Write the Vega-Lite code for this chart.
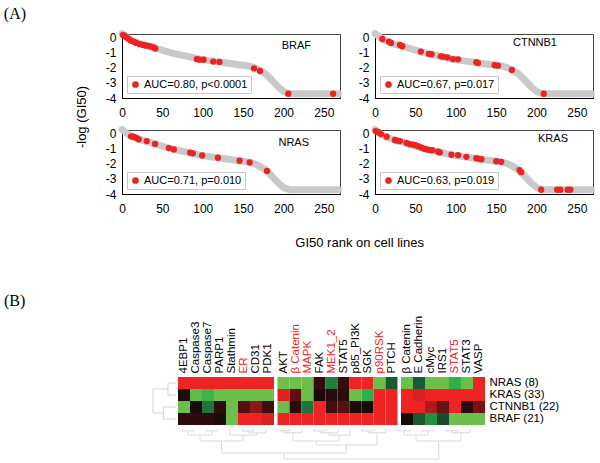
{
"$schema": "https://vega.github.io/schema/vega-lite/v6.json",
"background": "white",
"padding": {"left": 3, "top": 5, "right": 0, "bottom": 0},
"config": {
  "font": "Liberation Sans",
  "view": {"stroke": "#444"},
  "axis": {"labelFont": "Liberation Sans", "labelColor": "black", "grid": false, "ticks": false, "domainColor": "black", "title": null, "labelOverlap": false},
  "legend": {"orient": "bottom-left", "offset": 5, "padding": 3, "strokeColor": "#c8c8c8", "fillColor": "white", "labelFont": "Liberation Sans", "labelFontSize": 11, "labelColor": "black", "symbolSize": 45, "symbolStrokeWidth": 0, "title": null, "labelOffset": 3},
  "title": {"font": "Liberation Sans", "color": "black", "fontWeight": "normal"}
},
"datasets": {
  "curve": [
    {"rank": 0, "y": 0.25}, {"rank": 3, "y": 0.14}, {"rank": 6, "y": 0.0}, {"rank": 10, "y": -0.14},
    {"rank": 15, "y": -0.27}, {"rank": 25, "y": -0.46}, {"rank": 35, "y": -0.6}, {"rank": 42, "y": -0.72},
    {"rank": 55, "y": -0.92}, {"rank": 65, "y": -1.07}, {"rank": 80, "y": -1.24}, {"rank": 95, "y": -1.42},
    {"rank": 110, "y": -1.55}, {"rank": 125, "y": -1.66}, {"rank": 140, "y": -1.77}, {"rank": 155, "y": -1.87},
    {"rank": 163, "y": -1.98}, {"rank": 170, "y": -2.15}, {"rank": 178, "y": -2.42}, {"rank": 186, "y": -2.85},
    {"rank": 194, "y": -3.3}, {"rank": 201, "y": -3.6}, {"rank": 208, "y": -3.72}, {"rank": 268, "y": -3.72}
  ],
  "pts": [
    {"gene": "BRAF", "stat": "AUC=0.80, p<0.0001", "rank": 1.2, "y": 0.15},
    {"gene": "BRAF", "stat": "AUC=0.80, p<0.0001", "rank": 2.9, "y": 0.11},
    {"gene": "BRAF", "stat": "AUC=0.80, p<0.0001", "rank": 5.4, "y": 0.0},
    {"gene": "BRAF", "stat": "AUC=0.80, p<0.0001", "rank": 8.2, "y": -0.11},
    {"gene": "BRAF", "stat": "AUC=0.80, p<0.0001", "rank": 11.1, "y": -0.22},
    {"gene": "BRAF", "stat": "AUC=0.80, p<0.0001", "rank": 14.4, "y": -0.28},
    {"gene": "BRAF", "stat": "AUC=0.80, p<0.0001", "rank": 17.7, "y": -0.37},
    {"gene": "BRAF", "stat": "AUC=0.80, p<0.0001", "rank": 21.8, "y": -0.45},
    {"gene": "BRAF", "stat": "AUC=0.80, p<0.0001", "rank": 25.9, "y": -0.5},
    {"gene": "BRAF", "stat": "AUC=0.80, p<0.0001", "rank": 28.8, "y": -0.54},
    {"gene": "BRAF", "stat": "AUC=0.80, p<0.0001", "rank": 31.7, "y": -0.56},
    {"gene": "BRAF", "stat": "AUC=0.80, p<0.0001", "rank": 35, "y": -0.6},
    {"gene": "BRAF", "stat": "AUC=0.80, p<0.0001", "rank": 39.1, "y": -0.67},
    {"gene": "BRAF", "stat": "AUC=0.80, p<0.0001", "rank": 41.2, "y": -0.74},
    {"gene": "BRAF", "stat": "AUC=0.80, p<0.0001", "rank": 92.7, "y": -1.44},
    {"gene": "BRAF", "stat": "AUC=0.80, p<0.0001", "rank": 96, "y": -1.47},
    {"gene": "BRAF", "stat": "AUC=0.80, p<0.0001", "rank": 101, "y": -1.48},
    {"gene": "BRAF", "stat": "AUC=0.80, p<0.0001", "rank": 113, "y": -1.6},
    {"gene": "BRAF", "stat": "AUC=0.80, p<0.0001", "rank": 120.7, "y": -1.62},
    {"gene": "BRAF", "stat": "AUC=0.80, p<0.0001", "rank": 163.5, "y": -2.05},
    {"gene": "BRAF", "stat": "AUC=0.80, p<0.0001", "rank": 171, "y": -2.22},
    {"gene": "BRAF", "stat": "AUC=0.80, p<0.0001", "rank": 206, "y": -3.72},
    {"gene": "BRAF", "stat": "AUC=0.80, p<0.0001", "rank": 261.5, "y": -3.72},
    {"gene": "CTNNB1", "stat": "AUC=0.67, p=0.017", "rank": 9.1, "y": -0.11},
    {"gene": "CTNNB1", "stat": "AUC=0.67, p=0.017", "rank": 17.3, "y": -0.28},
    {"gene": "CTNNB1", "stat": "AUC=0.67, p=0.017", "rank": 19.8, "y": -0.37},
    {"gene": "CTNNB1", "stat": "AUC=0.67, p=0.017", "rank": 30.9, "y": -0.5},
    {"gene": "CTNNB1", "stat": "AUC=0.67, p=0.017", "rank": 33.7, "y": -0.59},
    {"gene": "CTNNB1", "stat": "AUC=0.67, p=0.017", "rank": 56.8, "y": -0.94},
    {"gene": "CTNNB1", "stat": "AUC=0.67, p=0.017", "rank": 66.7, "y": -1.09},
    {"gene": "CTNNB1", "stat": "AUC=0.67, p=0.017", "rank": 70, "y": -1.11},
    {"gene": "CTNNB1", "stat": "AUC=0.67, p=0.017", "rank": 81.5, "y": -1.25},
    {"gene": "CTNNB1", "stat": "AUC=0.67, p=0.017", "rank": 84.4, "y": -1.27},
    {"gene": "CTNNB1", "stat": "AUC=0.67, p=0.017", "rank": 89.7, "y": -1.33},
    {"gene": "CTNNB1", "stat": "AUC=0.67, p=0.017", "rank": 96.7, "y": -1.44},
    {"gene": "CTNNB1", "stat": "AUC=0.67, p=0.017", "rank": 102.9, "y": -1.45},
    {"gene": "CTNNB1", "stat": "AUC=0.67, p=0.017", "rank": 125.5, "y": -1.64},
    {"gene": "CTNNB1", "stat": "AUC=0.67, p=0.017", "rank": 127.6, "y": -1.7},
    {"gene": "CTNNB1", "stat": "AUC=0.67, p=0.017", "rank": 148.1, "y": -1.84},
    {"gene": "CTNNB1", "stat": "AUC=0.67, p=0.017", "rank": 152.3, "y": -1.87},
    {"gene": "CTNNB1", "stat": "AUC=0.67, p=0.017", "rank": 169.5, "y": -2.15},
    {"gene": "CTNNB1", "stat": "AUC=0.67, p=0.017", "rank": 209, "y": -3.72},
    {"gene": "NRAS", "stat": "AUC=0.71, p=0.010", "rank": 11.2, "y": -0.2},
    {"gene": "NRAS", "stat": "AUC=0.71, p=0.010", "rank": 14.1, "y": -0.22},
    {"gene": "NRAS", "stat": "AUC=0.71, p=0.010", "rank": 17.4, "y": -0.29},
    {"gene": "NRAS", "stat": "AUC=0.71, p=0.010", "rank": 20.7, "y": -0.4},
    {"gene": "NRAS", "stat": "AUC=0.71, p=0.010", "rank": 30.6, "y": -0.51},
    {"gene": "NRAS", "stat": "AUC=0.71, p=0.010", "rank": 41, "y": -0.7},
    {"gene": "NRAS", "stat": "AUC=0.71, p=0.010", "rank": 58, "y": -0.97},
    {"gene": "NRAS", "stat": "AUC=0.71, p=0.010", "rank": 64.2, "y": -1.06},
    {"gene": "NRAS", "stat": "AUC=0.71, p=0.010", "rank": 84.4, "y": -1.27},
    {"gene": "NRAS", "stat": "AUC=0.71, p=0.010", "rank": 87.7, "y": -1.32},
    {"gene": "NRAS", "stat": "AUC=0.71, p=0.010", "rank": 99.3, "y": -1.46},
    {"gene": "NRAS", "stat": "AUC=0.71, p=0.010", "rank": 118.8, "y": -1.61},
    {"gene": "NRAS", "stat": "AUC=0.71, p=0.010", "rank": 145.7, "y": -1.8},
    {"gene": "NRAS", "stat": "AUC=0.71, p=0.010", "rank": 158.1, "y": -1.92},
    {"gene": "NRAS", "stat": "AUC=0.71, p=0.010", "rank": 179.6, "y": -2.48},
    {"gene": "KRAS", "stat": "AUC=0.63, p=0.019", "rank": 0.8, "y": 0.15},
    {"gene": "KRAS", "stat": "AUC=0.63, p=0.019", "rank": 4.1, "y": 0.07},
    {"gene": "KRAS", "stat": "AUC=0.63, p=0.019", "rank": 7.4, "y": -0.05},
    {"gene": "KRAS", "stat": "AUC=0.63, p=0.019", "rank": 14.4, "y": -0.22},
    {"gene": "KRAS", "stat": "AUC=0.63, p=0.019", "rank": 24.7, "y": -0.44},
    {"gene": "KRAS", "stat": "AUC=0.63, p=0.019", "rank": 28, "y": -0.48},
    {"gene": "KRAS", "stat": "AUC=0.63, p=0.019", "rank": 30.9, "y": -0.51},
    {"gene": "KRAS", "stat": "AUC=0.63, p=0.019", "rank": 39.1, "y": -0.63},
    {"gene": "KRAS", "stat": "AUC=0.63, p=0.019", "rank": 43.2, "y": -0.72},
    {"gene": "KRAS", "stat": "AUC=0.63, p=0.019", "rank": 47.3, "y": -0.74},
    {"gene": "KRAS", "stat": "AUC=0.63, p=0.019", "rank": 50.2, "y": -0.78},
    {"gene": "KRAS", "stat": "AUC=0.63, p=0.019", "rank": 54.3, "y": -0.86},
    {"gene": "KRAS", "stat": "AUC=0.63, p=0.019", "rank": 57.6, "y": -0.94},
    {"gene": "KRAS", "stat": "AUC=0.63, p=0.019", "rank": 61.7, "y": -1.03},
    {"gene": "KRAS", "stat": "AUC=0.63, p=0.019", "rank": 65, "y": -1.07},
    {"gene": "KRAS", "stat": "AUC=0.63, p=0.019", "rank": 67.9, "y": -1.09},
    {"gene": "KRAS", "stat": "AUC=0.63, p=0.019", "rank": 70.8, "y": -1.11},
    {"gene": "KRAS", "stat": "AUC=0.63, p=0.019", "rank": 78.2, "y": -1.21},
    {"gene": "KRAS", "stat": "AUC=0.63, p=0.019", "rank": 80.2, "y": -1.26},
    {"gene": "KRAS", "stat": "AUC=0.63, p=0.019", "rank": 94.7, "y": -1.41},
    {"gene": "KRAS", "stat": "AUC=0.63, p=0.019", "rank": 102.9, "y": -1.44},
    {"gene": "KRAS", "stat": "AUC=0.63, p=0.019", "rank": 113.2, "y": -1.55},
    {"gene": "KRAS", "stat": "AUC=0.63, p=0.019", "rank": 125.5, "y": -1.64},
    {"gene": "KRAS", "stat": "AUC=0.63, p=0.019", "rank": 128.8, "y": -1.68},
    {"gene": "KRAS", "stat": "AUC=0.63, p=0.019", "rank": 131.7, "y": -1.71},
    {"gene": "KRAS", "stat": "AUC=0.63, p=0.019", "rank": 150.2, "y": -1.84},
    {"gene": "KRAS", "stat": "AUC=0.63, p=0.019", "rank": 156.4, "y": -1.88},
    {"gene": "KRAS", "stat": "AUC=0.63, p=0.019", "rank": 179, "y": -2.42},
    {"gene": "KRAS", "stat": "AUC=0.63, p=0.019", "rank": 181, "y": -2.56},
    {"gene": "KRAS", "stat": "AUC=0.63, p=0.019", "rank": 205.8, "y": -3.72},
    {"gene": "KRAS", "stat": "AUC=0.63, p=0.019", "rank": 225.5, "y": -3.72},
    {"gene": "KRAS", "stat": "AUC=0.63, p=0.019", "rank": 229.6, "y": -3.72},
    {"gene": "KRAS", "stat": "AUC=0.63, p=0.019", "rank": 238.7, "y": -3.72},
    {"gene": "KRAS", "stat": "AUC=0.63, p=0.019", "rank": 242, "y": -3.72}
  ],
  "heat": [
    {"g": 1, "col": "4EBP1", "row": "NRAS (8)", "v": 1}, {"g": 1, "col": "Caspase3", "row": "NRAS (8)", "v": 1}, {"g": 1, "col": "Caspase7", "row": "NRAS (8)", "v": 1}, {"g": 1, "col": "PARP1", "row": "NRAS (8)", "v": 1},
    {"g": 1, "col": "Stathmin", "row": "NRAS (8)", "v": 1}, {"g": 1, "col": "ER", "row": "NRAS (8)", "v": 1}, {"g": 1, "col": "CD31", "row": "NRAS (8)", "v": 1}, {"g": 1, "col": "PDK1", "row": "NRAS (8)", "v": 1},
    {"g": 1, "col": "4EBP1", "row": "KRAS (33)", "v": 0.04}, {"g": 1, "col": "Caspase3", "row": "KRAS (33)", "v": -0.95}, {"g": 1, "col": "Caspase7", "row": "KRAS (33)", "v": -0.85}, {"g": 1, "col": "PARP1", "row": "KRAS (33)", "v": -1},
    {"g": 1, "col": "Stathmin", "row": "KRAS (33)", "v": -1}, {"g": 1, "col": "ER", "row": "KRAS (33)", "v": -1}, {"g": 1, "col": "CD31", "row": "KRAS (33)", "v": -1}, {"g": 1, "col": "PDK1", "row": "KRAS (33)", "v": -1},
    {"g": 1, "col": "4EBP1", "row": "CTNNB1 (22)", "v": -1}, {"g": 1, "col": "Caspase3", "row": "CTNNB1 (22)", "v": 0}, {"g": 1, "col": "Caspase7", "row": "CTNNB1 (22)", "v": -0.45}, {"g": 1, "col": "PARP1", "row": "CTNNB1 (22)", "v": 0.12},
    {"g": 1, "col": "Stathmin", "row": "CTNNB1 (22)", "v": -1}, {"g": 1, "col": "ER", "row": "CTNNB1 (22)", "v": 0.3}, {"g": 1, "col": "CD31", "row": "CTNNB1 (22)", "v": 0.55}, {"g": 1, "col": "PDK1", "row": "CTNNB1 (22)", "v": 0.2},
    {"g": 1, "col": "4EBP1", "row": "BRAF (21)", "v": 0.12}, {"g": 1, "col": "Caspase3", "row": "BRAF (21)", "v": 0.12}, {"g": 1, "col": "Caspase7", "row": "BRAF (21)", "v": 0.12}, {"g": 1, "col": "PARP1", "row": "BRAF (21)", "v": 0.04},
    {"g": 1, "col": "Stathmin", "row": "BRAF (21)", "v": -1}, {"g": 1, "col": "ER", "row": "BRAF (21)", "v": 1}, {"g": 1, "col": "CD31", "row": "BRAF (21)", "v": 1}, {"g": 1, "col": "PDK1", "row": "BRAF (21)", "v": 0.9},
    {"g": 2, "col": "AKT", "row": "NRAS (8)", "v": -1}, {"g": 2, "col": "β Catenin", "row": "NRAS (8)", "v": -1}, {"g": 2, "col": "MAPK", "row": "NRAS (8)", "v": -1}, {"g": 2, "col": "FAK", "row": "NRAS (8)", "v": 0.15}, {"g": 2, "col": "MEK1_2", "row": "NRAS (8)", "v": -0.5},
    {"g": 2, "col": "STAT5", "row": "NRAS (8)", "v": 0.15}, {"g": 2, "col": "p85_PI3K", "row": "NRAS (8)", "v": 1}, {"g": 2, "col": "SGK", "row": "NRAS (8)", "v": 1}, {"g": 2, "col": "p90RSK", "row": "NRAS (8)", "v": -1}, {"g": 2, "col": "PTCH", "row": "NRAS (8)", "v": -0.3},
    {"g": 2, "col": "AKT", "row": "KRAS (33)", "v": 0.92}, {"g": 2, "col": "β Catenin", "row": "KRAS (33)", "v": 0.35}, {"g": 2, "col": "MAPK", "row": "KRAS (33)", "v": -1}, {"g": 2, "col": "FAK", "row": "KRAS (33)", "v": 0.02}, {"g": 2, "col": "MEK1_2", "row": "KRAS (33)", "v": 0.1},
    {"g": 2, "col": "STAT5", "row": "KRAS (33)", "v": 0.1}, {"g": 2, "col": "p85_PI3K", "row": "KRAS (33)", "v": -1}, {"g": 2, "col": "SGK", "row": "KRAS (33)", "v": -0.8}, {"g": 2, "col": "p90RSK", "row": "KRAS (33)", "v": 1}, {"g": 2, "col": "PTCH", "row": "KRAS (33)", "v": 1},
    {"g": 2, "col": "AKT", "row": "CTNNB1 (22)", "v": -1}, {"g": 2, "col": "β Catenin", "row": "CTNNB1 (22)", "v": 0.1}, {"g": 2, "col": "MAPK", "row": "CTNNB1 (22)", "v": -0.45}, {"g": 2, "col": "FAK", "row": "CTNNB1 (22)", "v": 1}, {"g": 2, "col": "MEK1_2", "row": "CTNNB1 (22)", "v": 0.2},
    {"g": 2, "col": "STAT5", "row": "CTNNB1 (22)", "v": 0.3}, {"g": 2, "col": "p85_PI3K", "row": "CTNNB1 (22)", "v": 0.02}, {"g": 2, "col": "SGK", "row": "CTNNB1 (22)", "v": 0.02}, {"g": 2, "col": "p90RSK", "row": "CTNNB1 (22)", "v": 1}, {"g": 2, "col": "PTCH", "row": "CTNNB1 (22)", "v": 1},
    {"g": 2, "col": "AKT", "row": "BRAF (21)", "v": 1}, {"g": 2, "col": "β Catenin", "row": "BRAF (21)", "v": 1}, {"g": 2, "col": "MAPK", "row": "BRAF (21)", "v": 1}, {"g": 2, "col": "FAK", "row": "BRAF (21)", "v": 1}, {"g": 2, "col": "MEK1_2", "row": "BRAF (21)", "v": 1},
    {"g": 2, "col": "STAT5", "row": "BRAF (21)", "v": 1}, {"g": 2, "col": "p85_PI3K", "row": "BRAF (21)", "v": 1}, {"g": 2, "col": "SGK", "row": "BRAF (21)", "v": 1}, {"g": 2, "col": "p90RSK", "row": "BRAF (21)", "v": 1}, {"g": 2, "col": "PTCH", "row": "BRAF (21)", "v": 1},
    {"g": 3, "col": "β Catenin", "row": "NRAS (8)", "v": -1}, {"g": 3, "col": "E Cadherin", "row": "NRAS (8)", "v": -0.3}, {"g": 3, "col": "cMyc", "row": "NRAS (8)", "v": -1}, {"g": 3, "col": "IRS1", "row": "NRAS (8)", "v": -1},
    {"g": 3, "col": "STAT5", "row": "NRAS (8)", "v": -0.8}, {"g": 3, "col": "STAT3", "row": "NRAS (8)", "v": -1}, {"g": 3, "col": "VASP", "row": "NRAS (8)", "v": 1},
    {"g": 3, "col": "β Catenin", "row": "KRAS (33)", "v": 1}, {"g": 3, "col": "E Cadherin", "row": "KRAS (33)", "v": 0.9}, {"g": 3, "col": "cMyc", "row": "KRAS (33)", "v": 1}, {"g": 3, "col": "IRS1", "row": "KRAS (33)", "v": 1},
    {"g": 3, "col": "STAT5", "row": "KRAS (33)", "v": 1}, {"g": 3, "col": "STAT3", "row": "KRAS (33)", "v": 1}, {"g": 3, "col": "VASP", "row": "KRAS (33)", "v": 1},
    {"g": 3, "col": "β Catenin", "row": "CTNNB1 (22)", "v": 1}, {"g": 3, "col": "E Cadherin", "row": "CTNNB1 (22)", "v": 1}, {"g": 3, "col": "cMyc", "row": "CTNNB1 (22)", "v": 0.7}, {"g": 3, "col": "IRS1", "row": "CTNNB1 (22)", "v": 0.4},
    {"g": 3, "col": "STAT5", "row": "CTNNB1 (22)", "v": 1}, {"g": 3, "col": "STAT3", "row": "CTNNB1 (22)", "v": 0.1}, {"g": 3, "col": "VASP", "row": "CTNNB1 (22)", "v": 0.45},
    {"g": 3, "col": "β Catenin", "row": "BRAF (21)", "v": 0}, {"g": 3, "col": "E Cadherin", "row": "BRAF (21)", "v": -0.3}, {"g": 3, "col": "cMyc", "row": "BRAF (21)", "v": -0.6}, {"g": 3, "col": "IRS1", "row": "BRAF (21)", "v": -0.25},
    {"g": 3, "col": "STAT5", "row": "BRAF (21)", "v": -1}, {"g": 3, "col": "STAT3", "row": "BRAF (21)", "v": -1}, {"g": 3, "col": "VASP", "row": "BRAF (21)", "v": -1}
  ],
  "dl": [
    {"x1": 0, "x2": 0.35, "y1": 0.5, "y2": 0.5}, {"x1": 0, "x2": 0.35, "y1": 1.5, "y2": 1.5}, {"x1": 0.35, "x2": 0.35, "y1": 0.5, "y2": 1.5},
    {"x1": 0, "x2": 0.55, "y1": 2.5, "y2": 2.5}, {"x1": 0, "x2": 0.55, "y1": 3.5, "y2": 3.5}, {"x1": 0.55, "x2": 0.55, "y1": 2.5, "y2": 3.5},
    {"x1": 0.35, "x2": 1, "y1": 1, "y2": 1}, {"x1": 0.55, "x2": 1, "y1": 3, "y2": 3}, {"x1": 1, "x2": 1, "y1": 1, "y2": 3}
  ],
  "db": [
    {"x1": 0.5, "x2": 1.5, "y1": 0.06, "y2": 0.06}, {"x1": 0.5, "x2": 0.5, "y1": 0, "y2": 0.06}, {"x1": 1.5, "x2": 1.5, "y1": 0, "y2": 0.06},
    {"x1": 2.5, "x2": 3.5, "y1": 0.06, "y2": 0.06}, {"x1": 2.5, "x2": 2.5, "y1": 0, "y2": 0.06}, {"x1": 3.5, "x2": 3.5, "y1": 0, "y2": 0.06},
    {"x1": 1, "x2": 3, "y1": 0.19, "y2": 0.19}, {"x1": 1, "x2": 1, "y1": 0.06, "y2": 0.19}, {"x1": 3, "x2": 3, "y1": 0.06, "y2": 0.19},
    {"x1": 5.5, "x2": 6.5, "y1": 0.06, "y2": 0.06}, {"x1": 5.5, "x2": 5.5, "y1": 0, "y2": 0.06}, {"x1": 6.5, "x2": 6.5, "y1": 0, "y2": 0.06},
    {"x1": 6, "x2": 7.5, "y1": 0.12, "y2": 0.12}, {"x1": 6, "x2": 6, "y1": 0.06, "y2": 0.12}, {"x1": 7.5, "x2": 7.5, "y1": 0, "y2": 0.12},
    {"x1": 4.5, "x2": 6.75, "y1": 0.19, "y2": 0.19}, {"x1": 4.5, "x2": 4.5, "y1": 0, "y2": 0.19}, {"x1": 6.75, "x2": 6.75, "y1": 0.12, "y2": 0.19},
    {"x1": 2, "x2": 5.6, "y1": 0.375, "y2": 0.375}, {"x1": 2, "x2": 2, "y1": 0.19, "y2": 0.375}, {"x1": 5.6, "x2": 5.6, "y1": 0.19, "y2": 0.375},
    {"x1": 8.5, "x2": 9.5, "y1": 0.06, "y2": 0.06}, {"x1": 8.5, "x2": 8.5, "y1": 0, "y2": 0.06}, {"x1": 9.5, "x2": 9.5, "y1": 0, "y2": 0.06},
    {"x1": 9, "x2": 10.5, "y1": 0.12, "y2": 0.12}, {"x1": 9, "x2": 9, "y1": 0.06, "y2": 0.12}, {"x1": 10.5, "x2": 10.5, "y1": 0, "y2": 0.12},
    {"x1": 11.5, "x2": 12.5, "y1": 0.06, "y2": 0.06}, {"x1": 11.5, "x2": 11.5, "y1": 0, "y2": 0.06}, {"x1": 12.5, "x2": 12.5, "y1": 0, "y2": 0.06},
    {"x1": 12, "x2": 13.5, "y1": 0.12, "y2": 0.12}, {"x1": 12, "x2": 12, "y1": 0.06, "y2": 0.12}, {"x1": 13.5, "x2": 13.5, "y1": 0, "y2": 0.12},
    {"x1": 12.75, "x2": 14.5, "y1": 0.19, "y2": 0.19}, {"x1": 12.75, "x2": 12.75, "y1": 0.12, "y2": 0.19}, {"x1": 14.5, "x2": 14.5, "y1": 0, "y2": 0.19},
    {"x1": 15.5, "x2": 16.5, "y1": 0.06, "y2": 0.06}, {"x1": 15.5, "x2": 15.5, "y1": 0, "y2": 0.06}, {"x1": 16.5, "x2": 16.5, "y1": 0, "y2": 0.06},
    {"x1": 16, "x2": 17.5, "y1": 0.12, "y2": 0.12}, {"x1": 16, "x2": 16, "y1": 0.06, "y2": 0.12}, {"x1": 17.5, "x2": 17.5, "y1": 0, "y2": 0.12},
    {"x1": 9.75, "x2": 13.6, "y1": 0.375, "y2": 0.375}, {"x1": 9.75, "x2": 9.75, "y1": 0.12, "y2": 0.375}, {"x1": 13.6, "x2": 13.6, "y1": 0.19, "y2": 0.375},
    {"x1": 11.7, "x2": 16.75, "y1": 0.5, "y2": 0.5}, {"x1": 11.7, "x2": 11.7, "y1": 0.375, "y2": 0.5}, {"x1": 16.75, "x2": 16.75, "y1": 0.12, "y2": 0.5},
    {"x1": 18.5, "x2": 19.5, "y1": 0.06, "y2": 0.06}, {"x1": 18.5, "x2": 18.5, "y1": 0, "y2": 0.06}, {"x1": 19.5, "x2": 19.5, "y1": 0, "y2": 0.06},
    {"x1": 20.5, "x2": 21.5, "y1": 0.06, "y2": 0.06}, {"x1": 20.5, "x2": 20.5, "y1": 0, "y2": 0.06}, {"x1": 21.5, "x2": 21.5, "y1": 0, "y2": 0.06},
    {"x1": 19, "x2": 21, "y1": 0.19, "y2": 0.19}, {"x1": 19, "x2": 19, "y1": 0.06, "y2": 0.19}, {"x1": 21, "x2": 21, "y1": 0.06, "y2": 0.19},
    {"x1": 22.5, "x2": 23.5, "y1": 0.06, "y2": 0.06}, {"x1": 22.5, "x2": 22.5, "y1": 0, "y2": 0.06}, {"x1": 23.5, "x2": 23.5, "y1": 0, "y2": 0.06},
    {"x1": 23, "x2": 24.5, "y1": 0.12, "y2": 0.12}, {"x1": 23, "x2": 23, "y1": 0.06, "y2": 0.12}, {"x1": 24.5, "x2": 24.5, "y1": 0, "y2": 0.12},
    {"x1": 20, "x2": 23.75, "y1": 0.375, "y2": 0.375}, {"x1": 20, "x2": 20, "y1": 0.19, "y2": 0.375}, {"x1": 23.75, "x2": 23.75, "y1": 0.12, "y2": 0.375},
    {"x1": 3.8, "x2": 14.2, "y1": 0.75, "y2": 0.75}, {"x1": 3.8, "x2": 3.8, "y1": 0.375, "y2": 0.75}, {"x1": 14.2, "x2": 14.2, "y1": 0.5, "y2": 0.75},
    {"x1": 9, "x2": 21.9, "y1": 0.94, "y2": 0.94}, {"x1": 9, "x2": 9, "y1": 0.75, "y2": 0.94}, {"x1": 21.9, "x2": 21.9, "y1": 0.375, "y2": 0.94}
  ]
},
"resolve": {"scale": {"color": "independent"}},
"spacing": 43,
"vconcat": [
  {
    "title": {"text": "(A)", "anchor": "start", "frame": "bounds", "font": "Liberation Serif", "fontSize": 16, "dx": -72, "offset": 8},
    "resolve": {"scale": {"color": "independent"}},
    "vconcat": [
      {
        "title": {"text": "GI50 rank on cell lines", "orient": "bottom", "anchor": "middle", "frame": "bounds", "fontSize": 13, "dx": 24, "offset": 22},
        "resolve": {"scale": {"color": "independent"}},
        "vconcat": [
          {
            "title": {"text": "-log (GI50)", "orient": "left", "anchor": "middle", "frame": "bounds", "fontSize": 13, "offset": 16, "dx": 5},
            "resolve": {"scale": {"color": "independent"}},
            "spacing": 6,
            "vconcat": [
              {
                "resolve": {"scale": {"color": "independent"}},
                "spacing": 14,
                "hconcat": [
                  {
                    "width": 218, "height": 64,
                    "title": {"text": "BRAF", "anchor": "end", "frame": "group", "fontSize": 11, "offset": 0, "dx": -29, "dy": 21},
                    "encoding": {
                      "x": {"field": "rank", "type": "quantitative", "scale": {"domain": [0, 270], "nice": false, "zero": false}, "axis": {"values": [0, 50, 100, 150, 200, 250], "labelFontSize": 12, "labelPadding": 9, "labelFlush": false}},
                      "y": {"field": "y", "type": "quantitative", "scale": {"domain": [-4, 0.22], "nice": false, "zero": false}, "axis": {"values": [-4, -3, -2, -1, 0], "tickCount": 5, "labelFontSize": 12, "labelPadding": 6, "labelFlush": false, "labelOverlap": false, "labelExpr": "datum.value < 0 ? '-' + abs(datum.value) : '' + datum.value"}}
                    },
                    "layer": [
                      {"data": {"name": "curve"}, "mark": {"type": "line", "color": "#c9c9c9", "strokeWidth": 7, "strokeCap": "round", "strokeJoin": "round"}},
                      {"data": {"name": "pts"}, "transform": [{"filter": "datum.gene === 'BRAF'"}], "mark": {"type": "circle", "size": 40, "opacity": 1},
                       "encoding": {"color": {"field": "stat", "type": "nominal", "scale": {"range": ["#ee2222"]}}}}
                    ]
                  },
                  {
                    "width": 218, "height": 64,
                    "title": {"text": "CTNNB1", "anchor": "end", "frame": "group", "fontSize": 11, "offset": 0, "dx": -36, "dy": 18},
                    "encoding": {
                      "x": {"field": "rank", "type": "quantitative", "scale": {"domain": [0, 270], "nice": false, "zero": false}, "axis": {"values": [0, 50, 100, 150, 200, 250], "labelFontSize": 12, "labelPadding": 9, "labelFlush": false}},
                      "y": {"field": "y", "type": "quantitative", "scale": {"domain": [-4, 0.22], "nice": false, "zero": false}, "axis": {"values": [-4, -3, -2, -1, 0], "tickCount": 5, "labelFontSize": 12, "labelPadding": 6, "labelFlush": false, "labelOverlap": false, "labelExpr": "datum.value < 0 ? '-' + abs(datum.value) : '' + datum.value"}}
                    },
                    "layer": [
                      {"data": {"name": "curve"}, "mark": {"type": "line", "color": "#c9c9c9", "strokeWidth": 7, "strokeCap": "round", "strokeJoin": "round"}},
                      {"data": {"name": "pts"}, "transform": [{"filter": "datum.gene === 'CTNNB1'"}], "mark": {"type": "circle", "size": 40, "opacity": 1},
                       "encoding": {"color": {"field": "stat", "type": "nominal", "scale": {"range": ["#ee2222"]}}}}
                    ]
                  }
                ]
              },
              {
                "resolve": {"scale": {"color": "independent"}},
                "spacing": 14,
                "hconcat": [
                  {
                    "width": 218, "height": 64,
                    "title": {"text": "NRAS", "anchor": "end", "frame": "group", "fontSize": 11, "offset": 0, "dx": -31, "dy": 22},
                    "encoding": {
                      "x": {"field": "rank", "type": "quantitative", "scale": {"domain": [0, 270], "nice": false, "zero": false}, "axis": {"values": [0, 50, 100, 150, 200, 250], "labelFontSize": 12, "labelPadding": 9, "labelFlush": false}},
                      "y": {"field": "y", "type": "quantitative", "scale": {"domain": [-4, 0.22], "nice": false, "zero": false}, "axis": {"values": [-4, -3, -2, -1, 0], "tickCount": 5, "labelFontSize": 12, "labelPadding": 6, "labelFlush": false, "labelOverlap": false, "labelExpr": "datum.value < 0 ? '-' + abs(datum.value) : '' + datum.value"}}
                    },
                    "layer": [
                      {"data": {"name": "curve"}, "mark": {"type": "line", "color": "#c9c9c9", "strokeWidth": 7, "strokeCap": "round", "strokeJoin": "round"}},
                      {"data": {"name": "pts"}, "transform": [{"filter": "datum.gene === 'NRAS'"}], "mark": {"type": "circle", "size": 40, "opacity": 1},
                       "encoding": {"color": {"field": "stat", "type": "nominal", "scale": {"range": ["#ee2222"]}}}}
                    ]
                  },
                  {
                    "width": 218, "height": 64,
                    "title": {"text": "KRAS", "anchor": "end", "frame": "group", "fontSize": 11, "offset": 0, "dx": -25, "dy": 18},
                    "encoding": {
                      "x": {"field": "rank", "type": "quantitative", "scale": {"domain": [0, 270], "nice": false, "zero": false}, "axis": {"values": [0, 50, 100, 150, 200, 250], "labelFontSize": 12, "labelPadding": 9, "labelFlush": false}},
                      "y": {"field": "y", "type": "quantitative", "scale": {"domain": [-4, 0.22], "nice": false, "zero": false}, "axis": {"values": [-4, -3, -2, -1, 0], "tickCount": 5, "labelFontSize": 12, "labelPadding": 6, "labelFlush": false, "labelOverlap": false, "labelExpr": "datum.value < 0 ? '-' + abs(datum.value) : '' + datum.value"}}
                    },
                    "layer": [
                      {"data": {"name": "curve"}, "mark": {"type": "line", "color": "#c9c9c9", "strokeWidth": 7, "strokeCap": "round", "strokeJoin": "round"}},
                      {"data": {"name": "pts"}, "transform": [{"filter": "datum.gene === 'KRAS'"}], "mark": {"type": "circle", "size": 40, "opacity": 1},
                       "encoding": {"color": {"field": "stat", "type": "nominal", "scale": {"range": ["#ee2222"]}}}}
                    ]
                  }
                ]
              }
            ]
          }
        ]
      }
    ]
  },
  {
    "title": {"text": "(B)", "anchor": "start", "frame": "bounds", "font": "Liberation Serif", "fontSize": 16, "dx": -118, "offset": 6},
    "spacing": 3,
    "vconcat": [
      {
        "spacing": 0,
        "hconcat": [
          {
            "width": 54, "height": 48, "view": {"stroke": null},
            "data": {"name": "dl"},
            "mark": {"type": "rule", "color": "#d4d4d4", "strokeWidth": 1},
            "encoding": {
              "x": {"field": "x1", "type": "quantitative", "scale": {"domain": [0, 2.348], "reverse": true, "nice": false, "zero": false}, "axis": null},
              "x2": {"field": "x2"},
              "y": {"field": "y1", "type": "quantitative", "scale": {"domain": [0, 4], "reverse": true, "nice": false}, "axis": null},
              "y2": {"field": "y2"}
            }
          },
          {
            "spacing": 2.5,
            "hconcat": [
              {
                "width": 96, "height": 48, "view": {"stroke": null},
                "data": {"name": "heat"}, "transform": [{"filter": "datum.g === 1"}],
                "mark": {"type": "rect"},
                "encoding": {
                  "x": {"field": "col", "type": "nominal", "sort": ["4EBP1", "Caspase3", "Caspase7", "PARP1", "Stathmin", "ER", "CD31", "PDK1"], "scale": {"paddingInner": 0, "paddingOuter": 0},
                        "axis": {"orient": "top", "labelAngle": -90, "labelFontSize": 11.5, "labelPadding": 4, "domain": false, "ticks": false,
                                 "labelColor": {"condition": {"test": "datum.value === 'ER'", "value": "#ee2222"}, "value": "black"}}},
                  "y": {"field": "row", "type": "nominal", "sort": ["NRAS (8)", "KRAS (33)", "CTNNB1 (22)", "BRAF (21)"], "scale": {"paddingInner": 0, "paddingOuter": 0}, "axis": null},
                  "color": {"field": "v", "type": "quantitative", "scale": {"domain": [-1, -0.8, -0.3, 0, 0.4, 1], "range": ["#6cbf4a", "#2fb04b", "#1a5a30", "#160a0a", "#6a1212", "#ee2424"], "interpolate": "rgb"}, "legend": null}
                }
              },
              {
                "width": 120, "height": 48, "view": {"stroke": null},
                "data": {"name": "heat"}, "transform": [{"filter": "datum.g === 2"}],
                "mark": {"type": "rect"},
                "encoding": {
                  "x": {"field": "col", "type": "nominal", "sort": ["AKT", "β Catenin", "MAPK", "FAK", "MEK1_2", "STAT5", "p85_PI3K", "SGK", "p90RSK", "PTCH"], "scale": {"paddingInner": 0, "paddingOuter": 0},
                        "axis": {"orient": "top", "labelAngle": -90, "labelFontSize": 11.5, "labelPadding": 4, "domain": false, "ticks": false,
                                 "labelColor": {"condition": {"test": "indexof(['β Catenin', 'MAPK', 'MEK1_2', 'p90RSK'], datum.value) >= 0", "value": "#ee2222"}, "value": "black"}}},
                  "y": {"field": "row", "type": "nominal", "sort": ["NRAS (8)", "KRAS (33)", "CTNNB1 (22)", "BRAF (21)"], "scale": {"paddingInner": 0, "paddingOuter": 0}, "axis": null},
                  "color": {"field": "v", "type": "quantitative", "scale": {"domain": [-1, -0.8, -0.3, 0, 0.4, 1], "range": ["#6cbf4a", "#2fb04b", "#1a5a30", "#160a0a", "#6a1212", "#ee2424"], "interpolate": "rgb"}, "legend": null}
                }
              },
              {
                "width": 84, "height": 48, "view": {"stroke": null},
                "data": {"name": "heat"}, "transform": [{"filter": "datum.g === 3"}],
                "mark": {"type": "rect"},
                "encoding": {
                  "x": {"field": "col", "type": "nominal", "sort": ["β Catenin", "E Cadherin", "cMyc", "IRS1", "STAT5", "STAT3", "VASP"], "scale": {"paddingInner": 0, "paddingOuter": 0},
                        "axis": {"orient": "top", "labelAngle": -90, "labelFontSize": 11.5, "labelPadding": 4, "domain": false, "ticks": false,
                                 "labelColor": {"condition": {"test": "datum.value === 'STAT5'", "value": "#ee2222"}, "value": "black"}}},
                  "y": {"field": "row", "type": "nominal", "sort": ["NRAS (8)", "KRAS (33)", "CTNNB1 (22)", "BRAF (21)"], "scale": {"paddingInner": 0, "paddingOuter": 0},
                        "axis": {"orient": "right", "labelFontSize": 11.5, "labelPadding": 4, "domain": false, "ticks": false}},
                  "color": {"field": "v", "type": "quantitative", "scale": {"domain": [-1, -0.8, -0.3, 0, 0.4, 1], "range": ["#6cbf4a", "#2fb04b", "#1a5a30", "#160a0a", "#6a1212", "#ee2424"], "interpolate": "rgb"}, "legend": null}
                }
              }
            ]
          }
        ]
      },
      {
        "width": 359, "height": 32, "view": {"stroke": null},
        "data": {"name": "db"},
        "mark": {"type": "rule", "color": "#dadada", "strokeWidth": 1},
        "encoding": {
          "x": {"field": "x1", "type": "quantitative", "scale": {"domain": [-4.5, 25.417], "nice": false, "zero": false}, "axis": null},
          "x2": {"field": "x2"},
          "y": {"field": "y1", "type": "quantitative", "scale": {"domain": [0, 1], "reverse": true, "nice": false}, "axis": null},
          "y2": {"field": "y2"}
        }
      }
    ]
  }
]
}
